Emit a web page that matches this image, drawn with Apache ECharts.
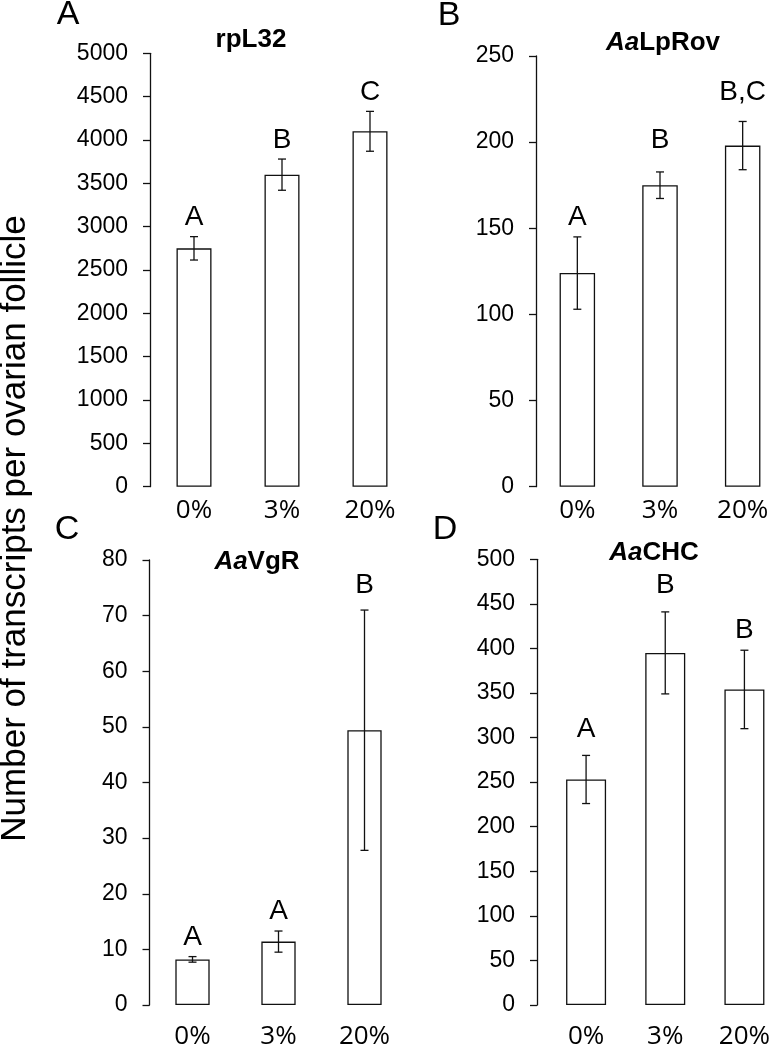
<!DOCTYPE html>
<html>
<head>
<meta charset="utf-8">
<script src="https://cdn.jsdelivr.net/npm/echarts@6/dist/echarts.min.js"></script>
<style>
html,body{margin:0;padding:0;background:#fff;}
#chart{width:784px;height:1050px;}
</style>
</head>
<body>
<div id="chart"></div>
<script>
// ---- data ----
const categories = ['0%', '3%', '20%'];

const rpL32Mean = [2750, 3600, 4100];
const rpL32Err = [135, 180, 230];
const rpL32Letters = ['A', 'B', 'C'];
const rpL32LetterAt = [3106, 4000, 4548];

const lpRovMean = [124, 175, 198];
const lpRovErr = [21, 7.7, 14];
const lpRovLetters = ['A', 'B', 'B,C'];
const lpRovLetterAt = [156.3, 201.3, 228.8];

const vgRMean = [8.2, 11.4, 49.4];
const vgRErr = [0.5, 1.9, 21.6];
const vgRLetters = ['A', 'A', 'B'];
const vgRLetterAt = [12.2, 16.9, 75.4];

const chcMean = [253, 395, 354];
const chcErr = [27, 46, 44];
const chcLetters = ['A', 'B', 'B'];
const chcLetterAt = [309.4, 470.3, 420.7];

const yTicksA = {min: 0, max: 5000, interval: 500};
const yTicksB = {min: 0, max: 250, interval: 50};
const yTicksC = {min: 0, max: 80, interval: 10};
const yTicksD = {min: 0, max: 500, interval: 50};

// ---- layout ----
const panels = [
  {grid: {left: 150, top: 53.3, width: 264, height: 433.4}, y: yTicksA, mean: rpL32Mean, err: rpL32Err, letters: rpL32Letters, at: rpL32LetterAt, barW: 35, xMargin: 11, yOffset: 0},
  {grid: {left: 536, top: 56, width: 263, height: 430.7}, y: yTicksB, mean: lpRovMean, err: lpRovErr, letters: lpRovLetters, at: lpRovLetterAt, barW: 35.5, xMargin: 11, yOffset: 0},
  {grid: {left: 149.5, top: 560, width: 258, height: 445.7}, y: yTicksC, mean: vgRMean, err: vgRErr, letters: vgRLetters, at: vgRLetterAt, barW: 34.3, xMargin: 19, yOffset: 0},
  {grid: {left: 546.5, top: 559.3, width: 238.5, height: 445.7}, y: yTicksD, mean: chcMean, err: chcErr, letters: chcLetters, at: chcLetterAt, barW: 40, xMargin: 19, yOffset: 9.5}
];

const FONT = '"Liberation Sans", Arial, sans-serif';
const LINE = '#111';

const grids = [], xAxes = [], yAxes = [], series = [];
panels.forEach(function (p, k) {
  grids.push(Object.assign({containLabel: false}, p.grid));
  xAxes.push({
    type: 'category', gridIndex: k, data: categories,
    axisLine: {show: false}, axisTick: {show: false},
    axisLabel: {fontFamily: '"Open Sans", sans-serif', fontSize: 26, color: '#000', margin: p.xMargin}
  });
  yAxes.push({
    type: 'value', gridIndex: k, min: p.y.min, max: p.y.max, interval: p.y.interval,
    offset: p.yOffset,
    splitLine: {show: false},
    axisLine: {show: true, lineStyle: {color: LINE, width: 1.3}},
    axisTick: {show: true, length: 7, lineStyle: {color: LINE, width: 1.3}},
    axisLabel: {fontFamily: FONT, fontSize: 23, color: '#000', margin: 22,
      formatter: function (v) { return String(v); }}
  });
  series.push({
    type: 'bar', xAxisIndex: k, yAxisIndex: k, data: p.mean, barWidth: p.barW,
    itemStyle: {color: '#fff', borderColor: LINE, borderWidth: 1.3},
    silent: true, animation: false
  });
  const letters = p.letters;
  series.push({
    type: 'custom', xAxisIndex: k, yAxisIndex: k, z: 5, animation: false, silent: true,
    data: p.mean.map(function (m, i) { return [i, m, p.err[i], p.at[i]]; }),
    renderItem: function (params, api) {
      const i = api.value(0), m = api.value(1), e = api.value(2), la = api.value(3);
      const t = api.coord([i, m + e]);
      const b = api.coord([i, m - e]);
      const l = api.coord([i, la]);
      const hw = 4;
      const st = {stroke: LINE, lineWidth: 1.3};
      return {
        type: 'group',
        children: [
          {type: 'line', shape: {x1: t[0], y1: t[1], x2: b[0], y2: b[1]}, style: st},
          {type: 'line', shape: {x1: t[0] - hw, y1: t[1], x2: t[0] + hw, y2: t[1]}, style: st},
          {type: 'line', shape: {x1: b[0] - hw, y1: b[1], x2: b[0] + hw, y2: b[1]}, style: st},
          {type: 'text', x: l[0], y: l[1], style: {text: letters[params.dataIndex], align: 'center', verticalAlign: 'middle', font: '28px ' + FONT, fill: '#000'}}
        ]
      };
    }
  });
});

const titleRich = {
  i: {fontFamily: FONT, fontSize: 26, fontWeight: 'bold', fontStyle: 'italic', color: '#000'},
  b: {fontFamily: FONT, fontSize: 26, fontWeight: 'bold', color: '#000'}
};
function titleText(x, y, text) {
  return {type: 'text', x: x, y: y, style: {text: text, align: 'center', verticalAlign: 'middle', rich: titleRich, font: 'bold 26px ' + FONT, fill: '#000'}};
}
function panelLetter(x, y, text) {
  return {type: 'text', x: x, y: y, style: {text: text, align: 'center', verticalAlign: 'middle', font: '34px ' + FONT, fill: '#000'}};
}

const graphics = [
  titleText(251, 40, '{b|rpL32}'),
  titleText(663, 43, '{i|Aa}{b|LpRov}'),
  titleText(257, 562, '{i|Aa}{b|VgR}'),
  titleText(654, 553, '{i|Aa}{b|CHC}'),
  panelLetter(68, 15, 'A'),
  panelLetter(449, 16, 'B'),
  panelLetter(67, 530, 'C'),
  panelLetter(445, 530, 'D'),
  {type: 'text', x: 15, y: 528.5, rotation: Math.PI / 2,
   style: {text: 'Number of transcripts per ovarian follicle', align: 'center', verticalAlign: 'middle', font: '35px ' + FONT, fill: '#000'}}
];

const chart = echarts.init(document.getElementById('chart'), null, {renderer: 'canvas'});
chart.setOption({
  backgroundColor: '#fff',
  animation: false,
  grid: grids,
  xAxis: xAxes,
  yAxis: yAxes,
  series: series,
  graphic: graphics
});
</script>
</body>
</html>
